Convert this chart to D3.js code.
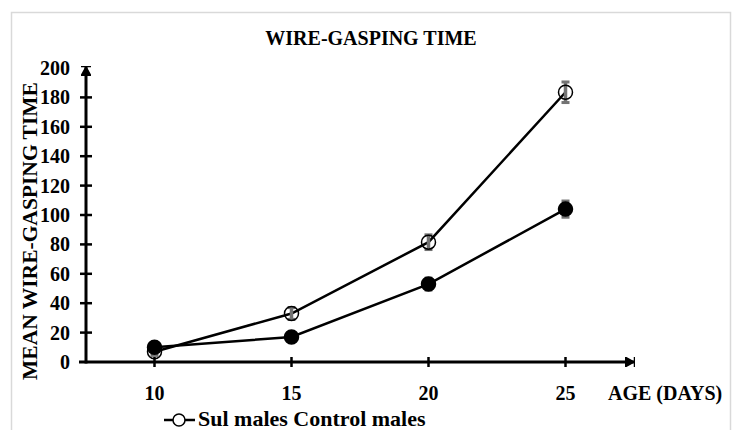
<!DOCTYPE html>
<html>
<head>
<meta charset="utf-8">
<script src="https://cdn.jsdelivr.net/npm/d3@7"></script>
<style>
  body { margin: 0; background: #fff; }
  svg text { font-family: "Liberation Serif", "DejaVu Serif", serif; font-weight: 700; }
</style>
</head>
<body>
<svg id="viz"></svg>
<script>
// chart data
const ages = [10, 15, 20, 25];
const sulMales = [7, 33, 81.5, 183.5];
const sulErr = [2.5, 4, 5, 7];
const controlMales = [10, 17, 53, 104];
const controlErr = [2.5, 3, 4, 5.5];
const yTicks = [0, 20, 40, 60, 80, 100, 120, 140, 160, 180, 200];

let width = 732, height = 430;

const svg = d3.select("#viz")
    .attr("width", width)
    .attr("height", height);

// light frame round the chart area
svg.append("rect")
    .attr("x", 11.5).attr("y", 12.5)
    .attr("width", 719).attr("height", 430)
    .attr("fill", "none")
    .attr("stroke", "#d9d9d9")
    .attr("stroke-width", 1.5);

const x = d3.scaleLinear().domain([7.5, 27.5]).range([86, 634]);
const y = d3.scaleLinear().domain([0, 200]).range([362, 68]);

// arrow markers for the axis ends
const defs = svg.append("defs");
defs.append("marker")
    .attr("id", "arrowUp")
    .attr("viewBox", "0 0 10 10")
    .attr("refX", 5).attr("refY", 1)
    .attr("markerWidth", 10).attr("markerHeight", 10)
    .attr("markerUnits", "userSpaceOnUse")
    .append("path")
    .attr("d", "M0,10 L5,1 L10,10 Z M0,0.5 L10,0.5")
    .attr("fill", "#000").attr("stroke", "#000").attr("stroke-width", 1.5);
defs.append("marker")
    .attr("id", "arrowRight")
    .attr("viewBox", "0 0 10 10")
    .attr("refX", 9).attr("refY", 5)
    .attr("markerWidth", 10).attr("markerHeight", 10)
    .attr("markerUnits", "userSpaceOnUse")
    .append("path")
    .attr("d", "M0,0 L9,5 L0,10 Z M9.5,0 L9.5,10")
    .attr("fill", "#000").attr("stroke", "#000").attr("stroke-width", 1.5);

// x axis
const xAxis = svg.append("g");
xAxis.append("line")
    .attr("x1", 79).attr("x2", x(27.5))
    .attr("y1", y(0)).attr("y2", y(0))
    .attr("stroke", "#000").attr("stroke-width", 3)
    .attr("marker-end", "url(#arrowRight)");
xAxis.selectAll(".xtick").data(ages).enter().append("line")
    .attr("x1", d => x(d)).attr("x2", d => x(d))
    .attr("y1", y(0) - 5).attr("y2", y(0) + 5)
    .attr("stroke", "#000").attr("stroke-width", 2.5);
xAxis.selectAll(".xlabel").data(ages).enter().append("text")
    .attr("x", d => x(d)).attr("y", 400)
    .attr("text-anchor", "middle")
    .attr("font-size", 20)
    .text(d => d);
svg.append("text")
    .attr("x", 608).attr("y", 400)
    .attr("font-size", 20)
    .text("AGE (DAYS)");

// y axis
const yAxis = svg.append("g");
yAxis.append("line")
    .attr("x1", x(7.5)).attr("x2", x(7.5))
    .attr("y1", y(0) + 1.5).attr("y2", y(200) - 1)
    .attr("stroke", "#000").attr("stroke-width", 3)
    .attr("marker-end", "url(#arrowUp)");
yAxis.selectAll(".ytick").data(yTicks.slice(1, -1)).enter().append("line")
    .attr("x1", x(7.5) - 6).attr("x2", x(7.5) + 6)
    .attr("y1", d => y(d)).attr("y2", d => y(d))
    .attr("stroke", "#000").attr("stroke-width", 2.5);
yAxis.selectAll(".ylabel").data(yTicks).enter().append("text")
    .attr("x", 70).attr("y", d => y(d) + 7)
    .attr("text-anchor", "end")
    .attr("font-size", 20)
    .text(d => d);
svg.append("text")
    .attr("transform", "translate(37,231) rotate(-90)")
    .attr("text-anchor", "middle")
    .attr("font-size", 21.5)
    .text("MEAN WIRE-GASPING TIME");

// title
svg.append("text")
    .attr("x", 371).attr("y", 45)
    .attr("text-anchor", "middle")
    .attr("font-size", 20)
    .text("WIRE-GASPING TIME");

const line = d3.line().x(d => x(d[0])).y(d => y(d[1]));

function drawSeries(values, errs, filled) {
    const pts = ages.map((a, i) => [a, values[i], errs[i]]);
    svg.append("path")
        .datum(pts)
        .attr("d", line)
        .attr("fill", "none")
        .attr("stroke", "#000")
        .attr("stroke-width", 2.5);
    const g = svg.append("g");
    g.selectAll(".err").data(pts).enter().append("line")
        .attr("x1", d => x(d[0])).attr("x2", d => x(d[0]))
        .attr("y1", d => y(d[1] - d[2])).attr("y2", d => y(d[1] + d[2]))
        .attr("stroke", "#737373").attr("stroke-width", 3.5);
    [-1, 1].forEach(s => {
        g.selectAll(".cap" + s).data(pts).enter().append("line")
            .attr("x1", d => x(d[0]) - 4).attr("x2", d => x(d[0]) + 4)
            .attr("y1", d => y(d[1] + s * d[2])).attr("y2", d => y(d[1] + s * d[2]))
            .attr("stroke", "#737373").attr("stroke-width", 3);
    });
    g.selectAll("circle").data(pts).enter().append("circle")
        .attr("cx", d => x(d[0])).attr("cy", d => y(d[1]))
        .attr("r", 7)
        .attr("fill", filled ? "#000" : "none")
        .attr("stroke", "#000")
        .attr("stroke-width", 1.5);
}

drawSeries(sulMales, sulErr, false);
drawSeries(controlMales, controlErr, true);

// legend (only the open-circle symbol shows in the original)
svg.append("line")
    .attr("x1", 164).attr("x2", 195)
    .attr("y1", 420).attr("y2", 420)
    .attr("stroke", "#000").attr("stroke-width", 2.5);
svg.append("circle")
    .attr("cx", 179).attr("cy", 420).attr("r", 6)
    .attr("fill", "#fff").attr("stroke", "#000").attr("stroke-width", 1.5);
svg.append("text")
    .attr("x", 198).attr("y", 426)
    .attr("font-size", 22)
    .text("Sul males Control males");
</script>
</body>
</html>
